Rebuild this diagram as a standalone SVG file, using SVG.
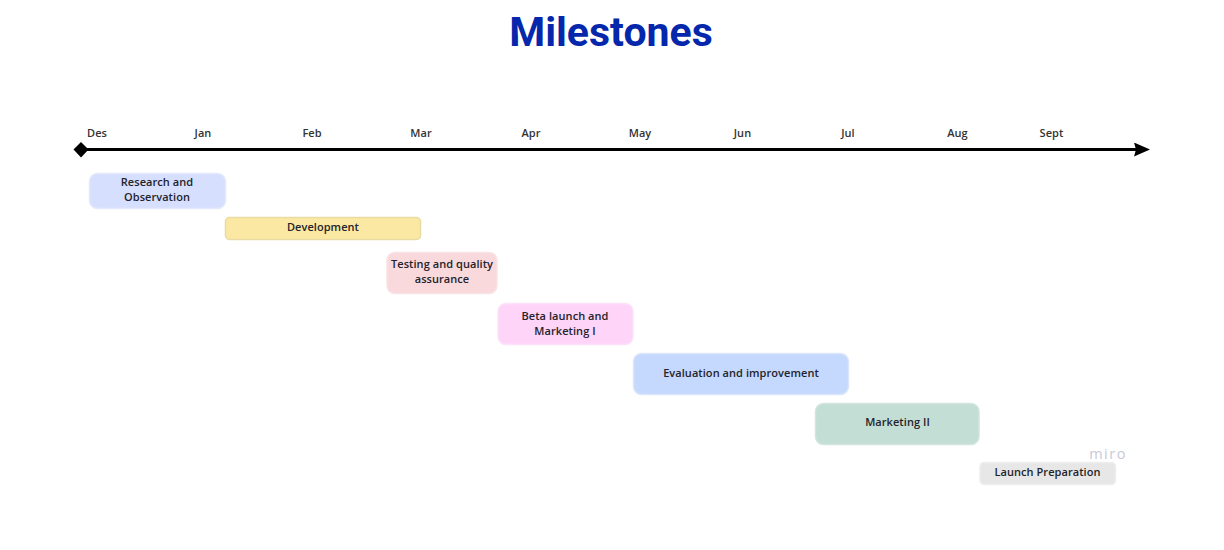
<svg xmlns="http://www.w3.org/2000/svg" width="1224" height="550" viewBox="0 0 1224 550">
<style>
.bar{stroke-width:1.5}
.t{font-family:"Open Sans","Noto Sans",sans-serif;font-weight:600;font-size:11px;letter-spacing:.06px;fill:#23232b;text-anchor:middle}
.m{fill:#333}
</style>
<defs>
<marker id="arrow" markerUnits="userSpaceOnUse" markerWidth="17" markerHeight="14" refX="3" refY="7" orient="auto"><path d="M0 0L16 7L0 14L2 7Z" fill="#000"/></marker>
</defs>
<rect width="1224" height="550" fill="#fff"/>
<text id="title" x="611" y="46" font-family="Roboto,sans-serif" font-weight="700" font-size="41" fill="#0427ab" text-anchor="middle">Milestones</text>
<g id="connectors">
<line id="timeline" x1="81" y1="149.500" x2="1137" y2="149.500" stroke="#000" stroke-width="3" marker-end="url(#arrow)"/>
</g>
<g id="start-marker"><path d="M81 142L88.500 149.500L81 157.500L73.500 149.500Z" fill="#000"/></g>
<g id="months">
<text class="t m" x="97" y="137">Des</text>
<text class="t m" x="203" y="137">Jan</text>
<text class="t m" x="312" y="137">Feb</text>
<text class="t m" x="421" y="137">Mar</text>
<text class="t m" x="531" y="137">Apr</text>
<text class="t m" x="640" y="137">May</text>
<text class="t m" x="742.500" y="137">Jun</text>
<text class="t m" x="848" y="137">Jul</text>
<text class="t m" x="957.500" y="137">Aug</text>
<text class="t m" x="1051.500" y="137">Sept</text>
</g>
<g id="research"><rect class="bar" x="89.500" y="173.500" width="136" height="35" rx="8" fill="#d6dffd" stroke="#e3e8fb"/><text class="t" x="157" y="186">Research and</text><text class="t" x="157" y="201">Observation</text></g>
<g id="development"><rect class="bar" x="225.500" y="217.500" width="195" height="22" rx="4" fill="#fbe8a3" stroke="#e9dba3"/><text class="t" x="323" y="231">Development</text></g>
<g id="testing"><rect class="bar" x="387" y="252.500" width="110" height="41" rx="8" fill="#f9d9dc" stroke="#f8e3e5"/><text class="t" x="442" y="268">Testing and quality</text><text class="t" x="442" y="283">assurance</text></g>
<g id="beta"><rect class="bar" x="498" y="303.500" width="135" height="41" rx="8" fill="#fed4f8" stroke="#fbe2f8"/><text class="t" x="565" y="320">Beta launch and</text><text class="t" x="565" y="335">Marketing I</text></g>
<g id="evaluation"><rect class="bar" x="633.500" y="353.500" width="215" height="41" rx="8" fill="#c5d9fe" stroke="#dbe6fb"/><text class="t" x="741" y="376.500">Evaluation and improvement</text></g>
<g id="marketing2"><rect class="bar" x="815.500" y="403.500" width="163.500" height="41" rx="8" fill="#c3ded5" stroke="#d3e5df"/><text class="t" x="897.500" y="426">Marketing II</text></g>
<g id="launch"><rect class="bar" x="980" y="462.500" width="135.500" height="22" rx="4" fill="#e7e7e7" stroke="#eeeeee"/><text class="t" x="1047.500" y="476">Launch Preparation</text></g>
<text id="miro" x="1108" y="459" font-family="'Open Sans',sans-serif" font-size="14.500" letter-spacing="1.500" fill="#c9c9d6" text-anchor="middle">miro</text>
</svg>
